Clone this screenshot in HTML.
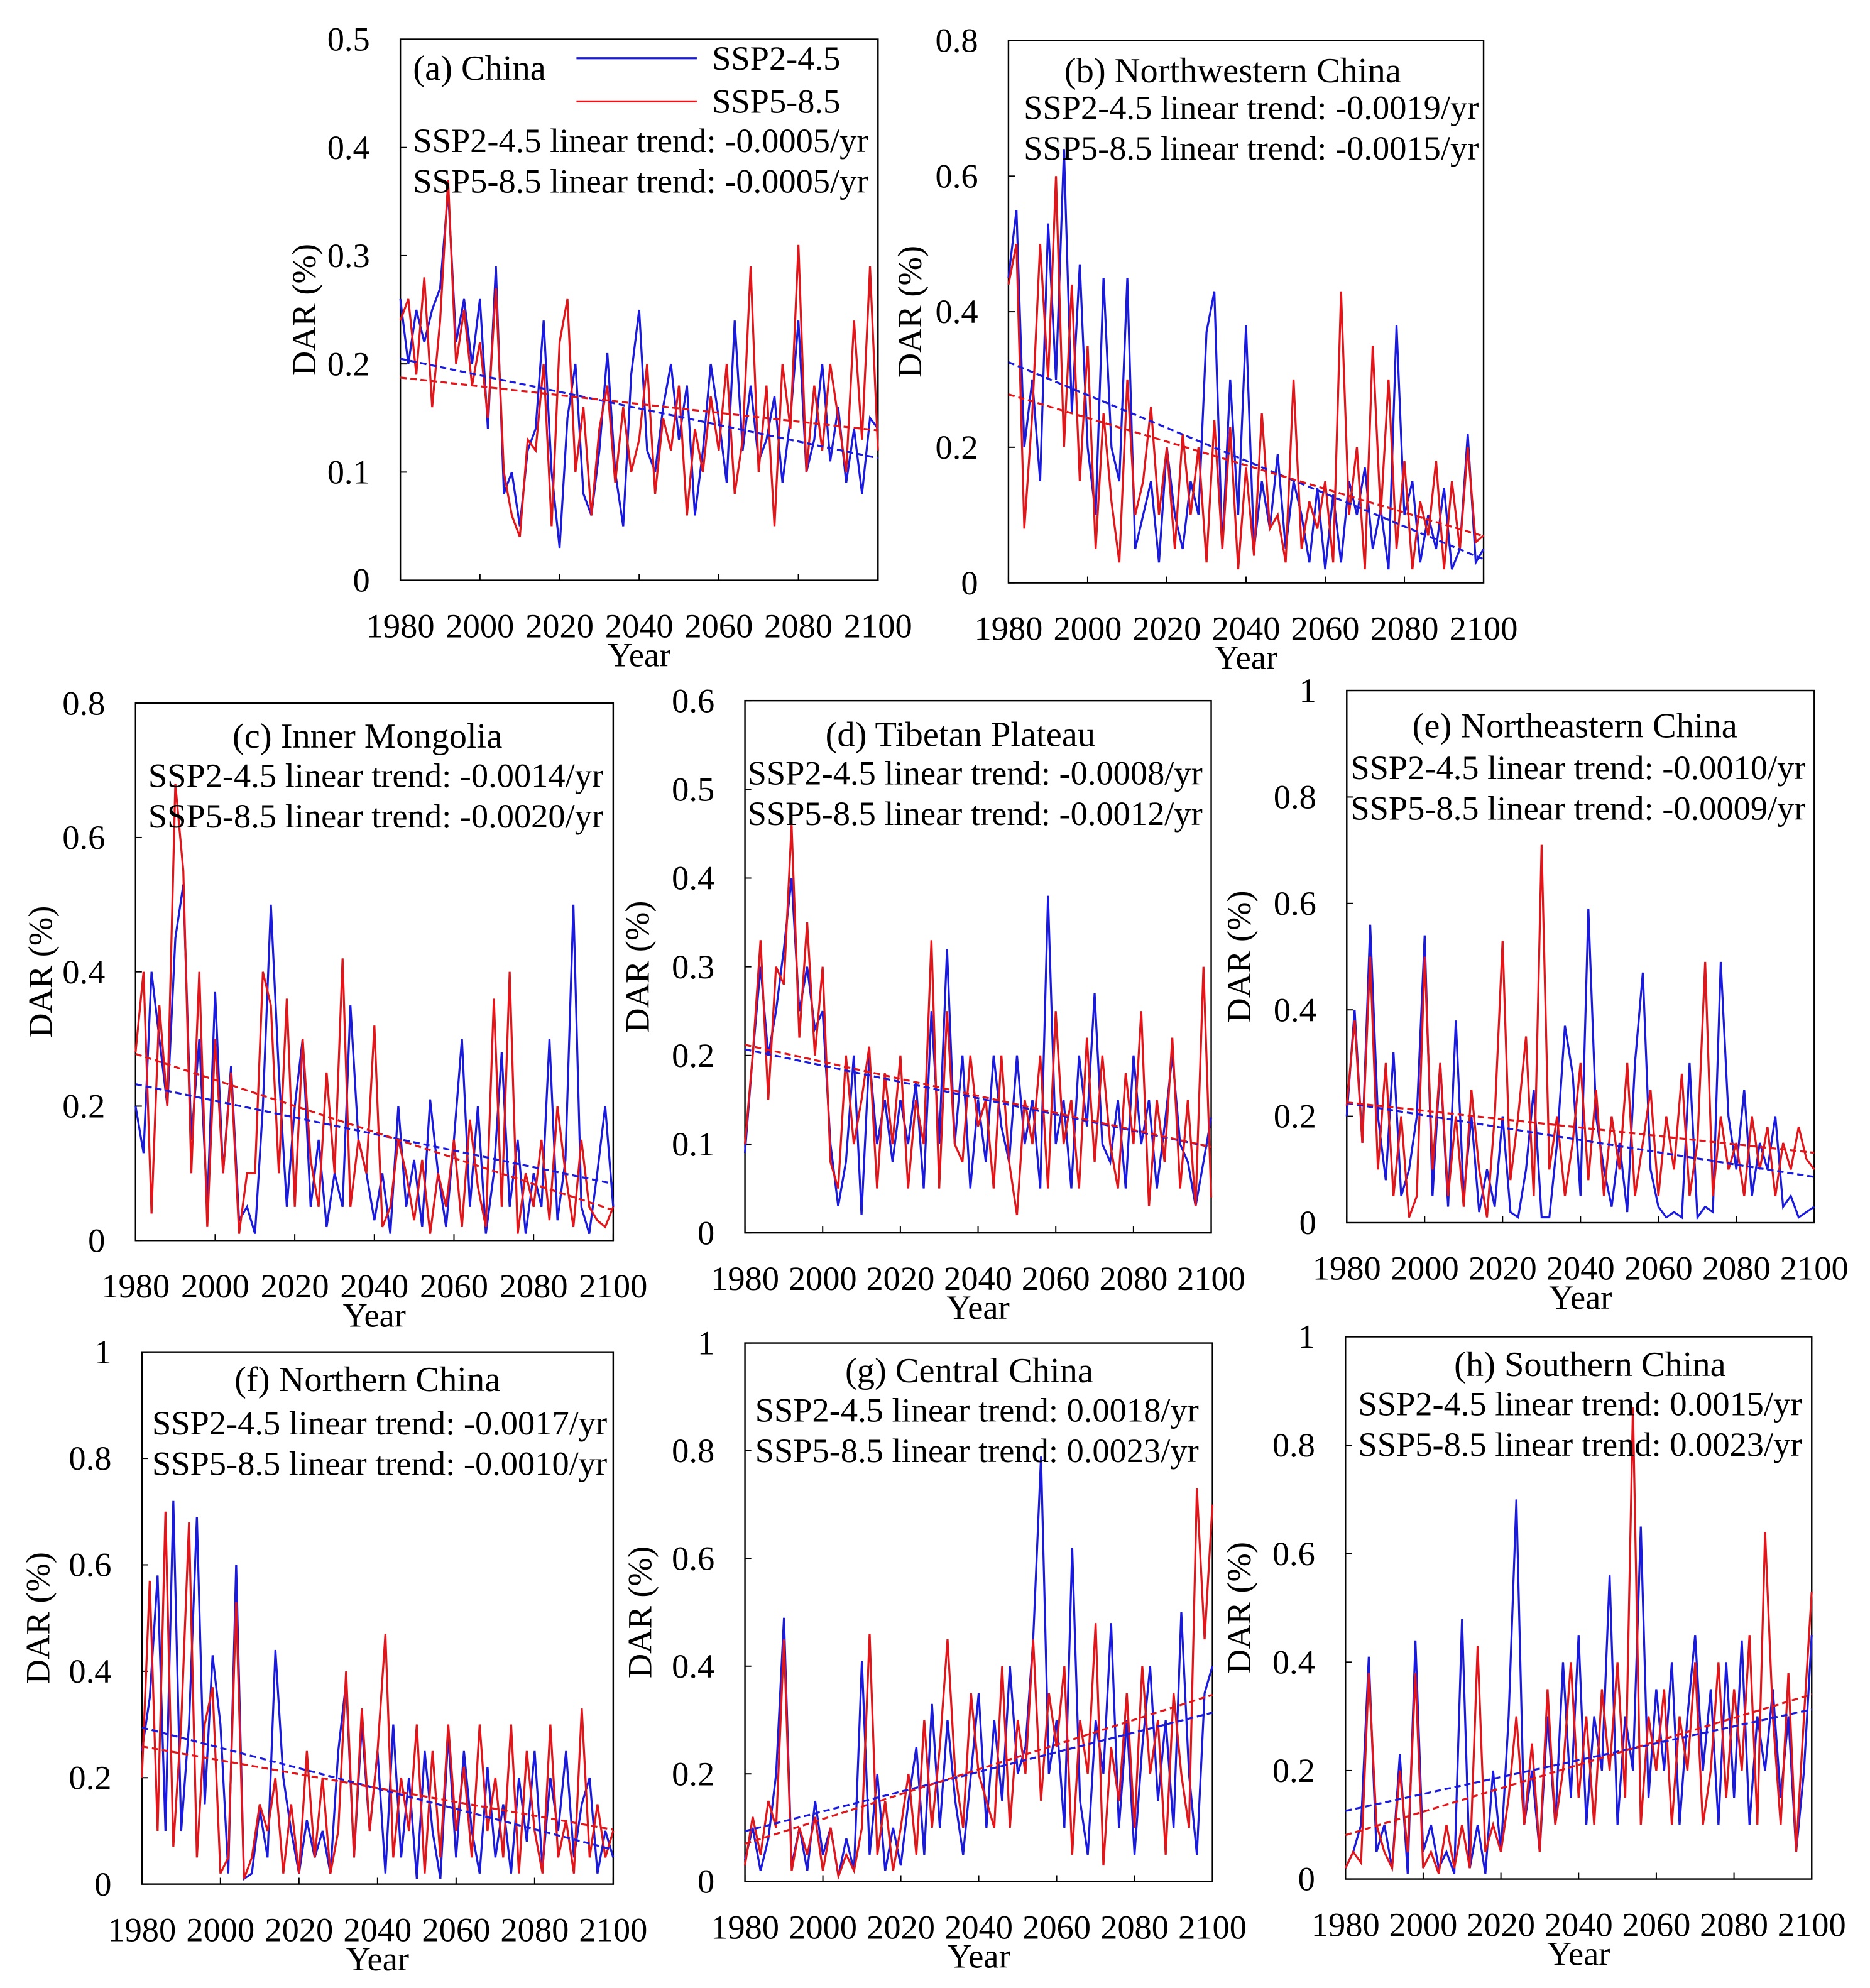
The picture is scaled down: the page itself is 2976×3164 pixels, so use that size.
<!DOCTYPE html>
<html><head><meta charset="utf-8"><style>
html,body{margin:0;padding:0;background:#fff}
svg{display:block;font-family:"Liberation Serif",serif}
</style></head><body>
<svg id="fig" width="2976" height="3164" viewBox="0 0 1476 1569" preserveAspectRatio="none" xmlns="http://www.w3.org/2000/svg"></svg>
<script>
const years = [];
for (let y = 1980; y <= 2100; y += 2) years.push(y);
const xTicks = [1980,2000,2020,2040,2060,2080,2100];
const seriesNames = ["SSP2-4.5","SSP5-8.5"];

const a_b=[0.26,0.2,0.25,0.22,0.25,0.27,0.36,0.22,0.26,0.2,0.26,0.14,0.29,0.08,0.1,0.05,0.12,0.14,0.24,0.1,0.03,0.15,0.2,0.08,0.06,0.12,0.21,0.1,0.05,0.19,0.25,0.12,0.1,0.16,0.2,0.13,0.18,0.06,0.12,0.2,0.15,0.09,0.24,0.12,0.18,0.11,0.13,0.17,0.09,0.15,0.24,0.1,0.13,0.2,0.11,0.16,0.09,0.14,0.08,0.15,0.14];
const a_r=[0.24,0.26,0.19,0.28,0.16,0.24,0.37,0.2,0.25,0.18,0.22,0.15,0.27,0.1,0.06,0.04,0.13,0.12,0.2,0.05,0.22,0.26,0.1,0.16,0.06,0.14,0.18,0.09,0.16,0.1,0.13,0.2,0.08,0.15,0.12,0.18,0.06,0.14,0.1,0.17,0.12,0.2,0.08,0.13,0.29,0.1,0.18,0.05,0.2,0.14,0.31,0.1,0.18,0.12,0.2,0.15,0.1,0.24,0.13,0.29,0.12];
const b_b=[0.45,0.55,0.2,0.3,0.15,0.53,0.3,0.64,0.25,0.47,0.2,0.1,0.45,0.2,0.15,0.45,0.05,0.1,0.15,0.03,0.2,0.1,0.05,0.15,0.1,0.37,0.43,0.05,0.3,0.1,0.38,0.05,0.15,0.08,0.19,0.05,0.15,0.1,0.03,0.14,0.02,0.13,0.03,0.15,0.1,0.17,0.05,0.11,0.02,0.38,0.1,0.15,0.03,0.1,0.05,0.14,0.02,0.05,0.22,0.03,0.05];
const b_r=[0.44,0.5,0.08,0.25,0.5,0.3,0.6,0.2,0.44,0.15,0.35,0.05,0.25,0.12,0.03,0.3,0.1,0.15,0.26,0.1,0.2,0.05,0.22,0.1,0.2,0.03,0.24,0.05,0.23,0.02,0.17,0.04,0.25,0.08,0.1,0.03,0.3,0.05,0.12,0.08,0.15,0.03,0.43,0.1,0.2,0.02,0.35,0.1,0.3,0.05,0.18,0.02,0.12,0.07,0.18,0.02,0.15,0.05,0.2,0.06,0.07];
const c_b=[0.2,0.13,0.4,0.3,0.2,0.45,0.53,0.15,0.3,0.05,0.37,0.1,0.26,0.03,0.05,0.01,0.2,0.5,0.25,0.05,0.2,0.3,0.05,0.15,0.02,0.1,0.05,0.35,0.15,0.1,0.03,0.1,0.01,0.2,0.05,0.12,0.02,0.21,0.1,0.02,0.15,0.3,0.05,0.2,0.01,0.1,0.28,0.05,0.15,0.01,0.1,0.05,0.3,0.03,0.12,0.5,0.05,0.01,0.1,0.2,0.05];
const c_r=[0.28,0.4,0.04,0.35,0.2,0.68,0.55,0.1,0.4,0.02,0.3,0.1,0.25,0.01,0.1,0.1,0.4,0.35,0.1,0.36,0.05,0.3,0.12,0.05,0.25,0.1,0.42,0.05,0.15,0.1,0.32,0.02,0.05,0.15,0.1,0.03,0.12,0.01,0.1,0.05,0.15,0.02,0.18,0.08,0.02,0.36,0.05,0.4,0.01,0.1,0.05,0.15,0.03,0.2,0.1,0.02,0.15,0.05,0.03,0.02,0.05];
const d_b=[0.09,0.2,0.3,0.2,0.25,0.32,0.4,0.25,0.3,0.23,0.25,0.1,0.03,0.08,0.2,0.02,0.2,0.1,0.15,0.08,0.15,0.1,0.17,0.05,0.25,0.1,0.32,0.1,0.2,0.05,0.15,0.08,0.2,0.12,0.08,0.2,0.1,0.15,0.05,0.38,0.1,0.15,0.05,0.2,0.12,0.27,0.1,0.08,0.15,0.05,0.2,0.1,0.15,0.05,0.12,0.2,0.1,0.08,0.03,0.08,0.13];
const d_r=[0.1,0.2,0.33,0.15,0.3,0.28,0.46,0.22,0.35,0.2,0.3,0.08,0.05,0.2,0.1,0.15,0.21,0.05,0.18,0.1,0.2,0.05,0.15,0.1,0.33,0.05,0.25,0.1,0.08,0.2,0.12,0.15,0.05,0.2,0.08,0.02,0.15,0.1,0.2,0.05,0.25,0.1,0.15,0.05,0.22,0.08,0.2,0.1,0.05,0.18,0.1,0.25,0.03,0.15,0.08,0.22,0.05,0.15,0.03,0.3,0.04];
const e_b=[0.2,0.4,0.15,0.56,0.2,0.08,0.32,0.05,0.1,0.2,0.54,0.05,0.3,0.03,0.38,0.05,0.2,0.02,0.1,0.03,0.2,0.02,0.01,0.1,0.25,0.01,0.01,0.15,0.37,0.28,0.05,0.59,0.2,0.1,0.03,0.15,0.02,0.3,0.47,0.1,0.03,0.01,0.02,0.01,0.3,0.01,0.03,0.02,0.49,0.2,0.1,0.25,0.05,0.15,0.1,0.2,0.03,0.05,0.01,0.02,0.03];
const e_r=[0.22,0.38,0.15,0.5,0.1,0.3,0.05,0.2,0.01,0.05,0.5,0.1,0.3,0.05,0.2,0.03,0.25,0.1,0.01,0.2,0.53,0.08,0.2,0.35,0.05,0.71,0.1,0.2,0.05,0.15,0.3,0.08,0.25,0.05,0.2,0.1,0.3,0.05,0.15,0.25,0.05,0.2,0.1,0.28,0.05,0.15,0.49,0.05,0.2,0.1,0.15,0.05,0.2,0.1,0.18,0.05,0.15,0.1,0.18,0.12,0.1];
const f_b=[0.25,0.35,0.58,0.1,0.72,0.1,0.3,0.69,0.15,0.43,0.3,0.02,0.6,0.01,0.02,0.14,0.05,0.44,0.2,0.1,0.02,0.12,0.05,0.1,0.02,0.25,0.38,0.05,0.3,0.1,0.25,0.02,0.3,0.05,0.2,0.01,0.25,0.1,0.01,0.28,0.05,0.25,0.1,0.02,0.22,0.05,0.15,0.02,0.2,0.08,0.25,0.03,0.2,0.1,0.25,0.05,0.15,0.2,0.02,0.1,0.05];
const f_r=[0.2,0.57,0.1,0.7,0.07,0.3,0.68,0.05,0.3,0.37,0.02,0.05,0.53,0.01,0.05,0.15,0.1,0.2,0.02,0.15,0.02,0.25,0.05,0.2,0.02,0.1,0.4,0.05,0.33,0.1,0.25,0.47,0.05,0.2,0.1,0.3,0.02,0.25,0.05,0.3,0.1,0.22,0.05,0.3,0.1,0.2,0.05,0.3,0.02,0.25,0.1,0.02,0.3,0.05,0.12,0.02,0.33,0.05,0.15,0.05,0.1];
const g_b=[0.04,0.1,0.02,0.08,0.2,0.49,0.03,0.1,0.02,0.15,0.05,0.1,0.01,0.08,0.02,0.41,0.05,0.2,0.02,0.1,0.03,0.15,0.25,0.05,0.33,0.1,0.3,0.15,0.05,0.2,0.35,0.1,0.3,0.15,0.4,0.2,0.25,0.45,0.79,0.2,0.3,0.1,0.62,0.15,0.05,0.3,0.2,0.48,0.1,0.3,0.05,0.25,0.4,0.15,0.3,0.1,0.5,0.2,0.05,0.35,0.4];
const g_r=[0.03,0.12,0.05,0.15,0.1,0.45,0.02,0.1,0.05,0.12,0.02,0.1,0.01,0.05,0.02,0.1,0.46,0.05,0.15,0.02,0.1,0.2,0.05,0.3,0.1,0.25,0.45,0.2,0.1,0.35,0.2,0.15,0.1,0.4,0.1,0.3,0.2,0.45,0.15,0.35,0.25,0.4,0.05,0.3,0.2,0.48,0.03,0.25,0.15,0.35,0.1,0.4,0.2,0.3,0.05,0.35,0.2,0.1,0.73,0.45,0.7];
const h_b=[0.02,0.05,0.1,0.41,0.05,0.1,0.02,0.23,0.01,0.44,0.05,0.1,0.02,0.05,0.01,0.48,0.02,0.1,0.01,0.2,0.05,0.3,0.7,0.1,0.2,0.05,0.3,0.1,0.4,0.15,0.45,0.1,0.3,0.2,0.56,0.1,0.3,0.2,0.65,0.15,0.35,0.2,0.4,0.1,0.3,0.45,0.2,0.35,0.1,0.4,0.15,0.44,0.1,0.3,0.2,0.35,0.15,0.3,0.05,0.2,0.45];
const h_r=[0.02,0.05,0.03,0.38,0.1,0.05,0.02,0.2,0.05,0.38,0.02,0.05,0.01,0.1,0.02,0.1,0.02,0.43,0.05,0.1,0.05,0.15,0.3,0.1,0.25,0.05,0.35,0.1,0.2,0.4,0.15,0.3,0.1,0.35,0.2,0.4,0.15,0.87,0.1,0.3,0.2,0.35,0.1,0.3,0.2,0.4,0.1,0.2,0.4,0.15,0.35,0.2,0.45,0.1,0.64,0.3,0.1,0.38,0.05,0.3,0.53];

const titles=["(a) China","(b) Northwestern China","(c) Inner Mongolia","(d) Tibetan Plateau","(e) Northeastern China","(f) Northern China","(g) Central China","(h) Southern China"];
const trend245=["-0.0005","-0.0019","-0.0014","-0.0008","-0.0010","-0.0017","0.0018","0.0015"];
const trend585=["-0.0005","-0.0015","-0.0020","-0.0012","-0.0009","-0.0010","0.0023","0.0023"];
const yMaxes=[0.5,0.8,0.8,0.6,1,1,1,1];
const ySteps=[0.1,0.2,0.2,0.1,0.2,0.2,0.2,0.2];
const blueData=[a_b,b_b,c_b,d_b,e_b,f_b,g_b,h_b];
const redData=[a_r,b_r,c_r,d_r,e_r,f_r,g_r,h_r];

const L=[
 {x0:316,x1:693,y0:31,y1:458,tx:326,ty:63,tl:true,rx:326,ry:120,yl:240},
 {x0:796,x1:1171,y0:32,y1:460,tx:973,ty:65,rx:808,ry:94,yl:718},
 {x0:107,x1:484,y0:555,y1:979,tx:290,ty:590,rx:117,ry:621,yl:32},
 {x0:588,x1:956,y0:553,y1:973,tx:758,ty:589,rx:590,ry:619,yl:503},
 {x0:1063,x1:1432,y0:545,y1:965,tx:1243,ty:582,rx:1066,ry:615,yl:978},
 {x0:112,x1:484,y0:1067,y1:1487,tx:290,ty:1098,rx:120,ry:1132,yl:30},
 {x0:588,x1:957,y0:1060,y1:1485,tx:765,ty:1091,rx:596,ry:1122,yl:505},
 {x0:1062,x1:1430,y0:1055,y1:1483,tx:1255,ty:1086,rx:1072,ry:1117,yl:978}
];
const NS="http://www.w3.org/2000/svg";
const svg=document.getElementById('fig');
function mk(tag,attrs,parent,text){const e=document.createElementNS(NS,tag);for(const k in attrs)e.setAttribute(k,attrs[k]);if(text!==undefined)e.textContent=text;parent.appendChild(e);return e;}
function fmt(v){return (Math.round(v*10)/10).toString();}
function regress(ys){const n=ys.length;let sx=0,sy=0,sxx=0,sxy=0;for(let i=0;i<n;i++){sx+=years[i];sy+=ys[i];sxx+=years[i]*years[i];sxy+=years[i]*ys[i];}const b=(n*sxy-sx*sy)/(n*sxx-sx*sx);return {b,a:(sy-b*sx)/n};}

L.forEach((p,i)=>{
 const g=mk('g',{},svg);
 
 
 const xs=v=>p.x0+(v-1980)/120*(p.x1-p.x0);
 const ys=v=>p.y1-v/yMaxes[i]*(p.y1-p.y0);
 const box=mk('rect',{x:p.x0,y:p.y0,width:p.x1-p.x0,height:p.y1-p.y0,fill:'#fff',stroke:'#000','stroke-width':1.2},g);
 
 
 const nT=Math.round(yMaxes[i]/ySteps[i]);
 for(let k=0;k<=nT;k++){const v=k*ySteps[i];
  const t=mk('text',{x:p.x0-24,y:ys(v)+9,'text-anchor':'end','font-size':27},g,fmt(v));
  
  
  mk('line',{x1:p.x0,x2:p.x0+5,y1:ys(v),y2:ys(v),stroke:'#000','stroke-width':1},g);
 }
 xTicks.forEach(v=>{
  const t=mk('text',{x:xs(v),y:p.y1+45,'text-anchor':'middle','font-size':27},g,String(v));
  
  
  mk('line',{x1:xs(v),x2:xs(v),y1:p.y1,y2:p.y1-5,stroke:'#000','stroke-width':1},g);
 });
 const xt=mk('text',{x:(p.x0+p.x1)/2,y:p.y1+68,'text-anchor':'middle','font-size':27},g,'Year');
 
 
 const yc=(p.y0+p.y1)/2;
 const yt=mk('text',{x:p.yl,y:yc,'text-anchor':'middle','font-size':27,transform:`rotate(-90 ${p.yl} ${yc})`,dy:9},g,'DAR (%)');
 
 
 [[blueData[i],'#1a1adc','ssp245'],[redData[i],'#e0161b','ssp585']].forEach(([d,c,nm])=>{
  const pts=d.map((v,k)=>xs(years[k]).toFixed(1)+','+ys(v).toFixed(1)).join(' ');
  const pl=mk('polyline',{points:pts,fill:'none',stroke:c,'stroke-width':1.6},g);
  
  
 });
 [[blueData[i],'#1a1adc','ssp245'],[redData[i],'#e0161b','ssp585']].forEach(([d,c,nm])=>{
  const r=regress(d);
  const tl=mk('line',{x1:xs(1980),y1:ys(r.a+r.b*1980),x2:xs(2100),y2:ys(r.a+r.b*2100),stroke:c,'stroke-width':1.6,'stroke-dasharray':'5,3'},g);
  
  
 });
 const ti=mk('text',{x:p.tx,y:p.ty,'text-anchor':p.tl?'start':'middle','font-size':28},g,titles[i]);
 
 
 const t1=mk('text',{x:p.rx,y:p.ry,'font-size':27},g,seriesNames[0]+' linear trend: '+trend245[i]+'/yr');
 
 
 const t2=mk('text',{x:p.rx,y:p.ry+32,'font-size':27},g,seriesNames[1]+' linear trend: '+trend585[i]+'/yr');
 
 
 if(i===0){
  const lg=mk('g',{},g);
  
  
  [['#1a1adc',46],['#e0161b',80]].forEach(([c,y],k)=>{
   mk('line',{x1:455,x2:550,y1:y,y2:y,stroke:c,'stroke-width':1.6},lg);
   const lt=mk('text',{x:562,y:y+9,'font-size':27},lg,seriesNames[k]);
   
   
  });
 }
});
</script>
</body></html>
